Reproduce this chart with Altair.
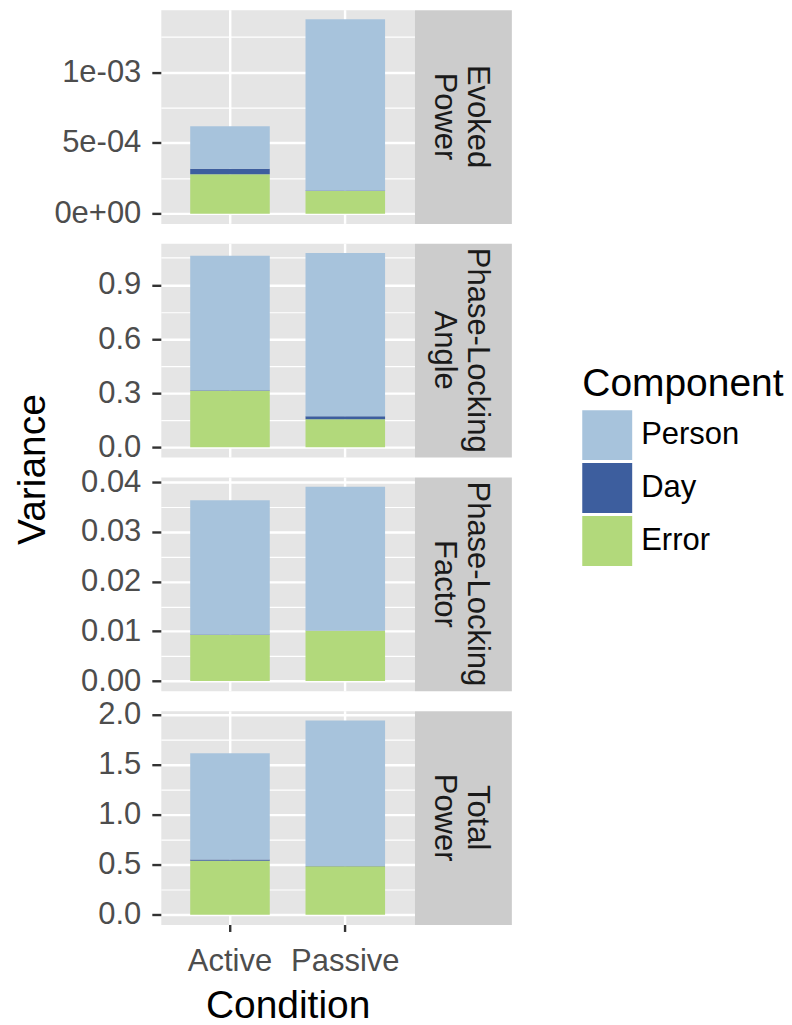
import json
import altair as alt
import pandas as pd

# ---------------- data ----------------
measures = ["Evoked Power", "Phase-Locking Angle", "Phase-Locking Factor", "Total Power"]
strip_labels = ["Evoked\nPower", "Phase-Locking\nAngle", "Phase-Locking\nFactor", "Total\nPower"]
conditions = ["Active", "Passive"]
components = ["Person", "Day", "Error"]
component_colors = ["#A7C3DC", "#3D5E9E", "#B2D97B"]

# values per measure: [Active, Passive]
person_vals = [[0.000299, 0.001210], [0.745, 0.904], [0.0270, 0.0289], [1.063, 1.456]]
day_vals = [[0.000039, 0.000002], [0.003, 0.016], [0.0001, 0.00003], [0.012, 0.004]]
error_vals = [[0.000279, 0.000161], [0.313, 0.156], [0.00927, 0.01014], [0.541, 0.485]]

y_major = [[0, 0.0005, 0.001], [0, 0.3, 0.6, 0.9], [0, 0.01, 0.02, 0.03, 0.04], [0, 0.5, 1.0, 1.5, 2.0]]
y_major_labels = [["0e+00", "5e-04", "1e-03"], ["0.0", "0.3", "0.6", "0.9"],
                  ["0.00", "0.01", "0.02", "0.03", "0.04"], ["0.0", "0.5", "1.0", "1.5", "2.0"]]
y_minor = [[0.00025, 0.00075, 0.00125], [0.15, 0.45, 0.75, 1.05],
           [0.005, 0.015, 0.025, 0.035], [0.25, 0.75, 1.25, 1.75]]

rows = []
for mi, m in enumerate(measures):
    for ci, c in enumerate(conditions):
        for comp, vals, ordv in (("Error", error_vals, 0), ("Day", day_vals, 1), ("Person", person_vals, 2)):
            rows.append({"Measure": m, "Condition": c, "Component": comp,
                         "Variance": vals[mi][ci], "ord": ordv})
df = pd.DataFrame(rows)

# ---------------- style ----------------
FONT = "Liberation Sans"
PW, PH, SW = 254, 214, 97
PANEL_BG = "#E5E5E5"
STRIP_BG = "#CCCCCC"
TICK_COL = "#333333"
LAB_COL = "#4D4D4D"


def panel(i):
    d = df[df.Measure == measures[i]]
    maj, lab, mnr = y_major[i], y_major_labels[i], y_minor[i]
    allv = sorted(maj + mnr)
    maj_js, lab_js = json.dumps(maj), json.dumps(lab)
    is_major = f"indexof({maj_js}, datum.value) >= 0"
    totals = [person_vals[i][k] + day_vals[i][k] + error_vals[i][k] for k in range(2)]
    ymax = max(totals)

    yaxis = dict(
        values=allv,
        labelExpr=f"{is_major} ? {lab_js}[indexof({maj_js}, datum.value)] : ''",
        grid=True, gridColor="white",
        gridWidth={"condition": {"test": is_major, "value": 2.4}, "value": 1.2},
        tickOpacity={"condition": {"test": is_major, "value": 1}, "value": 0},
        tickColor=TICK_COL, tickWidth=2.4, tickSize=9, labelPadding=11,
        labelFontSize=31, labelColor=LAB_COL, labelFont=FONT,
        domain=False, labelOverlap=False,
    )
    if i == 1:
        yaxis.update(title="Variance", titleX=-116, titleY=226, titleAngle=270,
                     titleAlign="center", titleBaseline="alphabetic", titleFontSize=39,
                     titleFont=FONT, titleColor="black", titleFontWeight="normal")
    else:
        yaxis.update(title=None)

    if i == 3:
        xaxis = alt.Axis(title="Condition", labelAngle=0, grid=True, gridColor="white",
                         gridWidth=2.4, domain=False, ticks=True, tickSize=7, tickWidth=2.4,
                         tickColor=TICK_COL, labelPadding=15, labelFontSize=31,
                         labelColor=LAB_COL, labelFont=FONT, titleFontSize=39,
                         titleFont=FONT, titleColor="black", titleFontWeight="normal",
                         titlePadding=10, bandPosition=0.5)
    else:
        xaxis = alt.Axis(title=None, labels=False, ticks=False, domain=False, grid=True,
                         gridColor="white", gridWidth=2.4, bandPosition=0.5)

    return alt.Chart(d).mark_bar().encode(
        x=alt.X("Condition:N", sort=conditions,
                scale=alt.Scale(paddingInner=0.31, paddingOuter=0.255), axis=xaxis),
        y=alt.Y("Variance:Q", stack="zero",
                scale=alt.Scale(domain=[-0.05 * ymax, 1.05 * ymax], nice=False, zero=False),
                axis=alt.Axis(**yaxis)),
        color=alt.Color("Component:N",
                        scale=alt.Scale(domain=components, range=component_colors),
                        legend=alt.Legend(orient="none", legendX=422, legendY=356,
                                          title="Component", titleFontSize=39, titleFont=FONT,
                                          titleFontWeight="normal", titleColor="black",
                                          titlePadding=6, labelFontSize=31, labelFont=FONT,
                                          labelColor="black", labelOffset=9,
                                          symbolType="square", symbolSize=2500,
                                          symbolStrokeWidth=0, symbolOpacity=1,
                                          rowPadding=3, padding=0, labelLimit=300,
                                          titleLimit=400)),
        order=alt.Order("ord:Q", sort="ascending"),
    ).properties(width=PW, height=PH,
                 view=alt.ViewBackground(fill=PANEL_BG, stroke="transparent"))


def strip(i):
    sd = pd.DataFrame({"label": [strip_labels[i]]})
    return alt.Chart(sd).mark_text(
        angle=90, align="center", baseline="middle", fontSize=31, font=FONT,
        color="#1A1A1A", lineBreak="\n", lineHeight=33, dy=-14,
    ).encode(text="label:N").properties(
        width=SW, height=PH, view=alt.ViewBackground(fill=STRIP_BG, stroke="transparent"))


cells = []
for i in range(len(measures)):
    cells.append(panel(i))
    cells.append(strip(i))

chart = alt.concat(
    *cells, columns=2, spacing={"row": 20, "column": 0}, bounds="flush"
).resolve_scale(
    x="independent", y="independent", color="shared"
).properties(
    padding={"left": 5, "top": 0, "right": 0, "bottom": 0}, background="white"
).configure_view(stroke="transparent")

chart.save("out.html", embed_options={"renderer": "svg", "actions": False})
